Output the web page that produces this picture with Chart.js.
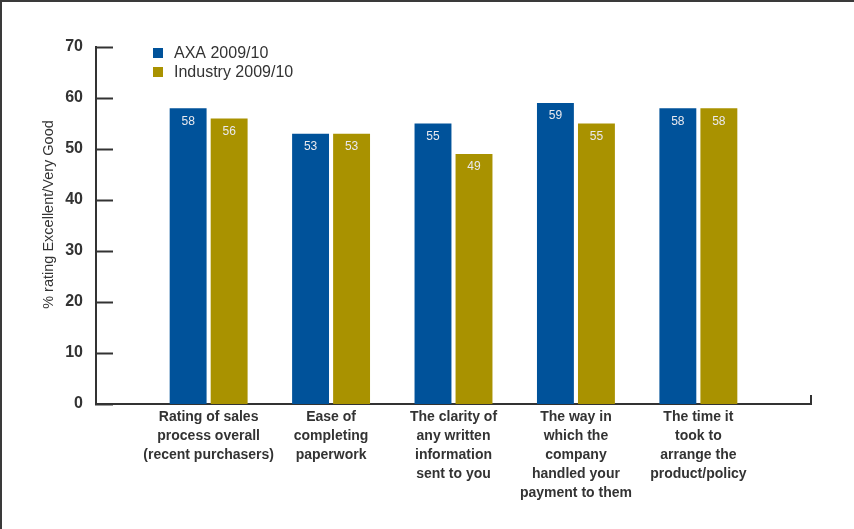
<!DOCTYPE html>
<html>
<head>
<meta charset="utf-8">
<script src="https://cdn.jsdelivr.net/npm/chart.js@4"></script>
<style>
  html, body { margin: 0; padding: 0; background: #fff; }
  #wrap { position: relative; width: 854px; height: 529px; }
  #frame {
    position: absolute; left: 0; top: 0; width: 852px; height: 527px;
    border-left: 2px solid #3a3a3a; border-top: 2px solid #3a3a3a;
    pointer-events: none;
  }
</style>
</head>
<body>
<div id="wrap">
  <canvas id="chart" width="854" height="529"></canvas>
  <div id="frame"></div>
</div>
<script>
const categories = [
  ['Rating of sales', 'process overall', '(recent purchasers)'],
  ['Ease of', 'completing', 'paperwork'],
  ['The clarity of', 'any written', 'information', 'sent to you'],
  ['The way in', 'which the', 'company', 'handled your', 'payment to them'],
  ['The time it', 'took to', 'arrange the', 'product/policy']
];
const seriesNames = ['AXA 2009/10', 'Industry 2009/10'];
const axaValues = [58, 53, 55, 59, 58];
const industryValues = [56, 53, 49, 55, 58];
const yTickValues = [0, 10, 20, 30, 40, 50, 60, 70];
const yTitle = '% rating Excellent/Very Good';

const BLUE = '#00529a';
const GOLD = '#a99200';
const INK = '#333333';
const FAMILY = "'Liberation Sans', Arial, sans-serif";

Chart.defaults.font.family = FAMILY;
Chart.defaults.color = INK;

// inward tick marks on the y axis, end cap on the x axis, bar values, legend and y title
const decorations = {
  id: 'decorations',
  afterDatasetsDraw(chart) {
    const ctx = chart.ctx;
    const area = chart.chartArea;
    const yScale = chart.scales.y;

    ctx.save();
    ctx.strokeStyle = INK;
    ctx.lineWidth = 2;
    yTickValues.forEach(v => {
      const y = Math.round(yScale.getPixelForValue(v)) + 0.5;
      ctx.beginPath();
      ctx.moveTo(area.left - 1, y);
      ctx.lineTo(area.left + 17, y);
      ctx.stroke();
    });
    ctx.beginPath();
    ctx.moveTo(area.right, area.bottom + 1);
    ctx.lineTo(area.right, area.bottom - 9);
    ctx.stroke();

    // values inside the top of each bar
    ctx.fillStyle = '#e9e9ee';
    ctx.font = '12px ' + FAMILY;
    ctx.textAlign = 'center';
    ctx.textBaseline = 'middle';
    chart.data.datasets.forEach((ds, i) => {
      chart.getDatasetMeta(i).data.forEach((bar, j) => {
        ctx.fillText(String(ds.data[j]), bar.x, bar.y + 13);
      });
    });

    // legend
    ctx.font = '16px ' + FAMILY;
    ctx.textAlign = 'left';
    chart.data.datasets.forEach((ds, i) => {
      const top = area.top + 1 + i * 19;
      ctx.fillStyle = ds.backgroundColor;
      ctx.fillRect(area.left + 57, top, 10, 10);
      ctx.fillStyle = INK;
      ctx.fillText(ds.label, area.left + 78, top + 5.5);
    });

    // rotated y axis title, sitting a little above the axis middle
    ctx.translate(49, (area.top + area.bottom) / 2 - 11);
    ctx.rotate(-Math.PI / 2);
    ctx.textAlign = 'center';
    ctx.font = '14.5px ' + FAMILY;
    ctx.fillStyle = INK;
    ctx.fillText(yTitle, 0, 0);
    ctx.restore();
  }
};

new Chart(document.getElementById('chart'), {
  type: 'bar',
  data: {
    labels: categories,
    datasets: [
      { label: seriesNames[0], data: axaValues, backgroundColor: BLUE },
      { label: seriesNames[1], data: industryValues, backgroundColor: GOLD }
    ]
  },
  options: {
    responsive: false,
    animation: false,
    devicePixelRatio: 1,
    layout: { padding: { left: 0, top: 47, right: 43, bottom: 0 } },
    categoryPercentage: 0.67,
    barPercentage: 0.9,
    plugins: {
      legend: { display: false },
      tooltip: { enabled: false }
    },
    scales: {
      x: {
        offset: true,
        grid: { display: false, drawTicks: false },
        border: { display: true, color: INK, width: 2 },
        ticks: {
          autoSkip: false,
          maxRotation: 0,
          padding: 4,
          color: INK,
          font: { size: 14, weight: 'bold', lineHeight: 19 / 14 }
        },
        // widen the axis beyond the outer categories
        afterBuildTicks(scale) {
          scale._startValue -= 0.42;
          scale._valueRange += 0.84;
        },
        afterFit(scale) { scale.height = 125; }
      },
      y: {
        min: 0,
        max: 70,
        grid: { display: false, drawTicks: false },
        border: { display: true, color: INK, width: 2 },
        ticks: {
          stepSize: 10,
          padding: 13,
          color: INK,
          font: { size: 16, weight: 'bold' }
        },
        afterFit(scale) { scale.width = 96; }
      }
    }
  },
  plugins: [decorations]
});
</script>
</body>
</html>
